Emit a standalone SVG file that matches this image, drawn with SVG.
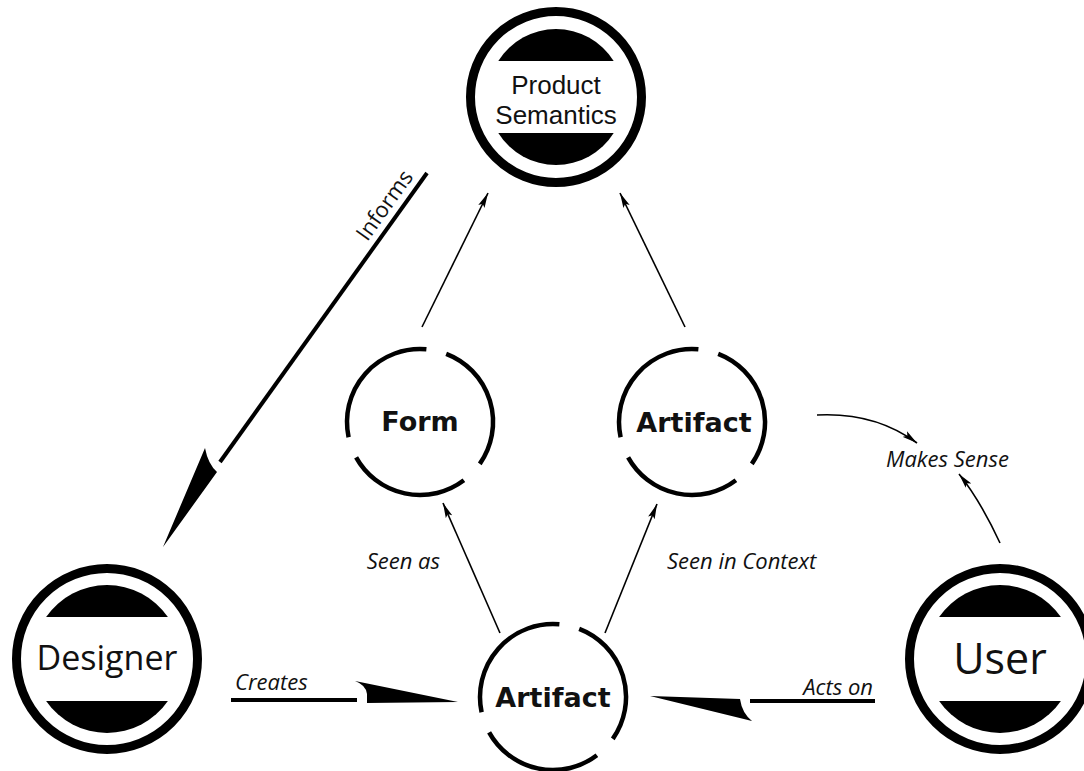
<svg xmlns="http://www.w3.org/2000/svg" width="1084" height="771" viewBox="0 0 1084 771">
<style>
.ring{fill:none;stroke:#000;stroke-width:9}
.cap{fill:#000}
.dring{fill:none;stroke:#000;stroke-width:4.5;stroke-linecap:butt}
.big{font-family:"Open Sans","Noto Sans",sans-serif;fill:#111;text-anchor:middle}
.ps{font-family:"Liberation Sans",Arial,sans-serif;fill:#111;text-anchor:middle;font-size:26px}
.bold{font-family:"DejaVu Sans",sans-serif;font-weight:bold;font-size:27px;fill:#111;text-anchor:middle}
.lbl{font-family:"Open Sans","Noto Sans",sans-serif;font-style:italic;font-size:22px;fill:#111}
.thin{fill:none;stroke:#000;stroke-width:1.6}
.thick{fill:none;stroke:#000;stroke-width:4}
</style>
<defs>
<marker id="ah" markerUnits="userSpaceOnUse" markerWidth="16" markerHeight="8" refX="15" refY="4" orient="auto">
<path d="M0,0.5 L15,4 L0,7.5 L3,4 Z" fill="#000"/>
</marker>
<path id="dr" d="M26.2,-68.2 A73,73 0 0 1 59.8,41.9 M43.9,58.3 A73,73 0 0 1 -63.9,35.4 M-71.4,15.2 A73,73 0 0 1 6.4,-72.7"/>
</defs>

<g id="connectors">
<line class="thin" x1="422" y1="327" x2="488" y2="193" marker-end="url(#ah)"/>
<line class="thin" x1="685" y1="327" x2="620" y2="193" marker-end="url(#ah)"/>
<line class="thin" x1="500" y1="633" x2="443" y2="503" marker-end="url(#ah)"/>
<line class="thin" x1="605" y1="633" x2="657" y2="504" marker-end="url(#ah)"/>
<path class="thin" d="M817,415 Q875,412 917,443" marker-end="url(#ah)"/>
<path class="thin" d="M1000,543 Q980,500 959,474" marker-end="url(#ah)"/>
<line class="thick" x1="427" y1="173" x2="220" y2="462"/>
<path d="M205,448 Q208,464 217,472 L163,547 Z" fill="#000"/>
<line class="thick" x1="231" y1="700" x2="357" y2="700"/>
<path d="M355,681 Q366,685 367,694 L367,703 L458,702 Z" fill="#000"/>
<line class="thick" x1="750" y1="701" x2="875" y2="701"/>
<path d="M740,699 Q742,713 752,721 L650,696 Z" fill="#000"/>
<text class="lbl" style="font-style:normal" x="0" y="0" text-anchor="end" transform="translate(414,177) rotate(-54.4)">Informs</text>
<text class="lbl" x="235" y="690">Creates</text>
<text class="lbl" x="873" y="695" text-anchor="end">Acts on</text>
<text class="lbl" x="440" y="569" text-anchor="end">Seen as</text>
<text class="lbl" x="667" y="569">Seen in Context</text>
<text class="lbl" x="886" y="467">Makes Sense</text>
</g>

<g id="product-semantics">
<circle class="ring" cx="556" cy="97" r="85.5"/>
<path class="cap" d="M498.3,61 A68,68 0 0 1 613.7,61 Z"/>
<path class="cap" d="M498.3,133 A68,68 0 0 0 613.7,133 Z"/>
<text class="ps" x="556" y="94">Product</text>
<text class="ps" x="556" y="124">Semantics</text>
</g>

<g id="designer">
<circle class="ring" cx="107" cy="659" r="90.5"/>
<path class="cap" d="M46.1,617 A74,74 0 0 1 167.9,617 Z"/>
<path class="cap" d="M46.1,701 A74,74 0 0 0 167.9,701 Z"/>
<text class="big" x="107" y="670" font-size="34">Designer</text>
</g>

<g id="user">
<circle class="ring" cx="1000" cy="659" r="90.5"/>
<path class="cap" d="M939.1,617 A74,74 0 0 1 1060.9,617 Z"/>
<path class="cap" d="M939.1,701 A74,74 0 0 0 1060.9,701 Z"/>
<text class="big" x="1000" y="674" font-size="43">User</text>
</g>

<g id="form">
<use href="#dr" class="dring" x="420" y="422"/>
<text class="bold" x="420" y="431">Form</text>
</g>

<g id="artifact-context">
<use href="#dr" class="dring" x="692" y="422"/>
<text class="bold" x="694" y="432">Artifact</text>
</g>

<g id="artifact">
<use href="#dr" class="dring" x="553" y="697"/>
<text class="bold" x="553" y="707">Artifact</text>
</g>
</svg>
